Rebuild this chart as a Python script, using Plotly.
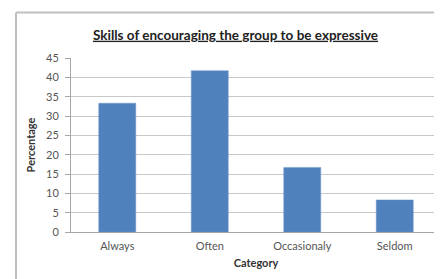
import plotly.graph_objects as go

categories = ["Always", "Often", "Occasionaly", "Seldom"]
values = [33.3, 41.7, 16.7, 8.3]
y_ticks = [0, 5, 10, 15, 20, 25, 30, 35, 40, 45]

W, H = 442, 279
L, R, T, B = 63, 9, 50, 55
pw = W - L - R
ph = H - T - B

def px_x(p):
    return (p - L) / pw

def px_y(p):
    return (H - B - p) / ph

font = "Lato, 'Open Sans', sans-serif"

fig = go.Figure(go.Bar(
    x=categories, y=values,
    marker=dict(color="#4F81BD", line=dict(color="#6A96CC", width=0.5)),
    width=0.4,
))

fig.update_layout(
    width=W, height=H,
    margin=dict(l=L, r=R, t=T, b=B),
    paper_bgcolor="white", plot_bgcolor="white",
    showlegend=False,
    title=dict(text="<b><u>Skills of encouraging the group to be expressive</u></b>",
               x=227.5 / W, xanchor="center", y=1 - 27 / H, yanchor="middle",
               font=dict(family=font, size=13.5, color="#222222")),
    font=dict(family=font, size=11, color="#555555"),
    shapes=[
        dict(type="line", xref="paper", yref="paper",
             x0=px_x(8), x1=px_x(442), y0=px_y(4.5), y1=px_y(4.5),
             line=dict(color="#bfbfbf", width=2)),
        dict(type="line", xref="paper", yref="paper",
             x0=px_x(8), x1=px_x(8), y0=px_y(4.5), y1=px_y(279),
             line=dict(color="#bfbfbf", width=2)),
    ],
)

fig.update_xaxes(
    type="category", range=[-0.5, 3.5],
    showline=True, linecolor="#a6a6a6", linewidth=1,
    ticks="", showgrid=False,
    tickfont=dict(size=11, color="#555555"),
    ticklabelstandoff=4,
    title=dict(text="<b>Category</b>", font=dict(size=11, color="#333333"), standoff=8),
)
fig.update_yaxes(
    range=[0, 45], tickvals=y_ticks,
    showline=True, linecolor="#a6a6a6", linewidth=1,
    ticks="outside", ticklen=5, tickcolor="#a6a6a6",
    showgrid=True, gridcolor="#c8c8c8", gridwidth=1,
    zeroline=False,
    tickfont=dict(size=11, color="#555555"),
    ticklabelstandoff=4,
    title=dict(text="<b>Percentage</b>", font=dict(size=11, color="#333333"), standoff=8),
)

fig.write_html("out.html")
